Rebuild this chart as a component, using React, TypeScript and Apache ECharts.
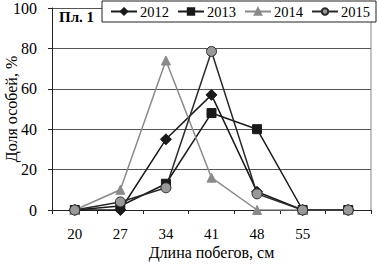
import React, { useEffect, useRef } from "react";
import * as echarts from "echarts";

const categories = ["20", "27", "34", "41", "48", "55", ""];
const s2012 = [0, 0, 35, 57, 9, 0, 0];
const s2013 = [0, 2, 13, 48, 40, 0, 0];
const s2014 = [0, 10, 74, 16, 0, 0, 0];
const s2015 = [0, 4, 11, 78.5, 8, 0, 0];
const yTicks = [0, 20, 40, 60, 80, 100];

const FONT = "Liberation Serif";

export default function App() {
  const ref = useRef<HTMLDivElement>(null);
  useEffect(() => {
    const chart = echarts.init(ref.current!, null, { renderer: "svg" });
    const mk = (name: string, data: number[], color: string, symbol: string, size: number, symColor: string, lw: number) => ({
      name,
      type: "line",
      data,
      symbol,
      symbolSize: size,
      lineStyle: { color, width: lw },
      itemStyle: { color: symColor, borderColor: color, borderWidth: 1 },
      emphasis: { disabled: true },
    });
    chart.setOption({
      animation: false,
      grid: { left: 52, right: 6, top: 8, bottom: 55, containLabel: false, outerBoundsMode: "none" },
      legend: {
        top: 1,
        left: 102,
        right: 0,
        itemGap: 8,
        itemWidth: 26,
        itemHeight: 8,
        padding: [3, 6, 3, 8],
        borderColor: "#222",
        borderWidth: 1,
        backgroundColor: "#fff",
        textStyle: { fontFamily: FONT, fontSize: 14.5, color: "#000", padding: [0, 0, 0, -2] },
        data: ["2012", "2013", "2014", "2015"],
      },
      xAxis: {
        type: "category",
        data: categories,
        boundaryGap: true,
        name: "Длина побегов, см",
        nameLocation: "middle",
        nameGap: 34,
        nameMoveOverlap: false,
        nameTextStyle: { fontFamily: FONT, fontSize: 16, color: "#000" },
        axisLine: { lineStyle: { color: "#222", width: 1 } },
        axisTick: { show: true, alignWithLabel: false, length: 4, lineStyle: { color: "#222" } },
        axisLabel: { fontFamily: FONT, fontSize: 15, color: "#000", margin: 16, interval: 0 },
      },
      yAxis: {
        type: "value",
        min: 0,
        max: 100,
        interval: 20,
        name: "Доля особей, %",
        nameLocation: "middle",
        nameGap: 33,
        nameMoveOverlap: false,
        nameTextStyle: { fontFamily: FONT, fontSize: 16, color: "#000" },
        axisLine: { show: true, lineStyle: { color: "#222", width: 1 } },
        axisTick: { show: true, length: 4, lineStyle: { color: "#222" } },
        axisLabel: {
          fontFamily: FONT,
          fontSize: 16,
          color: "#000",
          margin: 15,
          formatter: (v: number) => (yTicks.includes(v) ? String(v) : ""),
        },
        splitLine: { show: true, lineStyle: { color: "#555", width: 1 } },
      },
      graphic: [
        {
          type: "line",
          shape: { x1: 371, y1: 8, x2: 371, y2: 210 },
          style: { stroke: "#888", lineWidth: 1 },
          z: 1,
        },
        {
          type: "text",
          left: 59,
          top: 9,
          style: { text: "Пл. 1", fontFamily: FONT, fontSize: 15, fontWeight: "bold", fill: "#000" },
          z: 10,
        },
      ],
      series: [
        mk("2012", s2012, "#1a1a1a", "diamond", 11, "#1a1a1a", 1.5),
        mk("2013", s2013, "#1a1a1a", "rect", 9, "#1a1a1a", 1.5),
        mk("2014", s2014, "#8a8a8a", "triangle", 9, "#8a8a8a", 1.5),
        mk("2015", s2015, "#2a2a2a", "circle", 10, "#999999", 1.5),
      ],
    });
    return () => chart.dispose();
  }, []);
  return <div ref={ref} style={{ width: 377, height: 265, position: "absolute", left: 0, top: 0 }} />;
}
